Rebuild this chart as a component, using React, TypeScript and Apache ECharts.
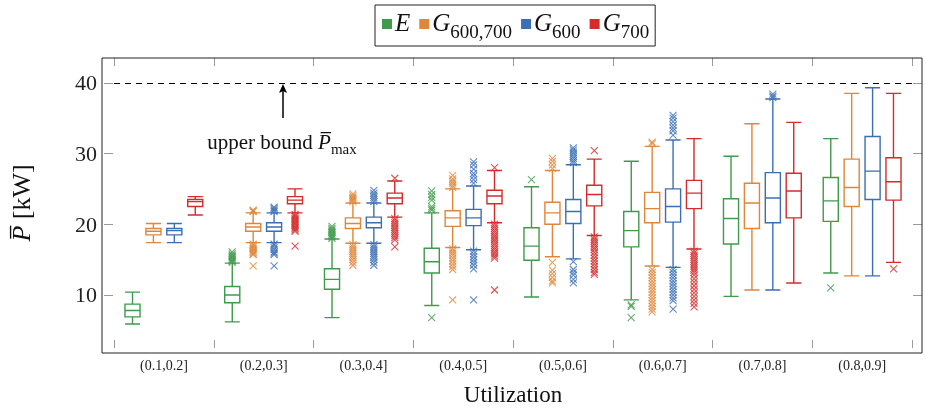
import React, { useEffect, useRef } from 'react';
import * as echarts from 'echarts';

const categories = ['(0.1,0.2]', '(0.2,0.3]', '(0.3,0.4]', '(0.4,0.5]', '(0.5,0.6]', '(0.6,0.7]', '(0.7,0.8]', '(0.8,0.9]'];
const seriesNames = ['E', 'G600,700', 'G600', 'G700'];
const colors = ['#3f9a4b', '#e0863a', '#3b6eb5', '#d42b2b'];
const yTicks = [10, 20, 30, 40];
const upperBound = 40;

// [min, Q1, median, Q3, max]
const eBox = [
  [5.9, 6.9, 7.8, 8.7, 10.4], [6.2, 8.9, 10.0, 11.2, 14.5], [6.8, 10.8, 12.2, 13.7, 17.9], [8.5, 13.1, 14.7, 16.6, 21.6],
  [9.7, 14.9, 16.9, 19.5, 25.3], [9.3, 16.8, 19.1, 21.8, 28.9], [9.8, 17.2, 20.8, 23.6, 29.6], [13.1, 20.4, 23.3, 26.6, 32.1],
];
const g67Box = [
  [17.4, 18.5, 19.0, 19.4, 20.1], [17.4, 19.0, 19.6, 20.1, 21.6], [17.3, 19.4, 20.1, 20.9, 23.0], [16.7, 19.7, 20.9, 21.9, 25.0],
  [15.4, 20.0, 21.6, 23.1, 27.6], [14.1, 20.2, 22.2, 24.5, 31.0], [10.7, 19.4, 23.0, 25.8, 34.2], [12.7, 22.5, 25.2, 29.2, 38.5],
];
const g6Box = [
  [17.4, 18.5, 19.1, 19.4, 20.1], [17.4, 19.0, 19.6, 20.2, 21.6], [17.3, 19.5, 20.2, 21.0, 23.0], [16.4, 19.8, 20.9, 22.1, 25.4],
  [15.1, 20.1, 21.8, 23.5, 28.4], [13.9, 20.3, 22.5, 25.0, 31.9], [10.7, 20.2, 23.7, 27.3, 37.7], [12.7, 23.5, 27.5, 32.4, 39.3],
];
const g7Box = [
  [21.3, 22.5, 23.2, 23.5, 23.9], [21.6, 22.9, 23.4, 23.9, 25.0], [21.0, 22.9, 23.7, 24.4, 26.1], [20.2, 22.9, 24.0, 24.8, 27.6],
  [18.4, 22.6, 24.2, 25.5, 29.2], [16.5, 22.2, 24.4, 26.2, 32.1], [11.7, 20.9, 24.7, 27.2, 34.4], [14.6, 23.4, 26.0, 29.4, 38.5],
];

// outliers per category index
const eOut = [
  [],
  [14.6, 14.8, 15.0, 15.2, 15.4, 15.6, 15.8, 16.1],
  [18.0, 18.2, 18.4, 18.6, 18.8, 19.0, 19.2, 19.4, 19.7],
  [22.0, 22.2, 22.5, 23.4, 23.8, 24.2, 24.7, 6.8],
  [26.3],
  [8.6, 8.4, 6.8],
  [],
  [11.0],
];
const g67Out = [
  [],
  [21.8, 21.9, 22.0, 17.2, 17.0, 16.8, 16.6, 16.4, 16.2, 16.0, 15.8, 15.7, 14.1],
  [23.2, 23.4, 23.6, 23.8, 24.0, 24.3, 17.1, 16.8, 16.5, 16.2, 15.9, 15.6, 15.3, 15.0, 14.6, 14.2],
  [25.2, 25.5, 25.8, 26.1, 26.4, 26.9, 16.5, 16.2, 15.9, 15.6, 15.2, 14.8, 14.4, 14.0, 13.6, 9.3],
  [27.9, 28.4, 28.9, 29.3, 14.6, 13.5, 13.0, 12.5, 12.0, 11.7],
  [31.4, 31.6, 13.6, 13.2, 12.8, 12.4, 12.0, 11.6, 11.2, 10.8, 10.4, 10.0, 9.6, 9.2, 8.8, 8.4, 8.0, 7.6],
  [],
  [],
];
const g6Out = [
  [],
  [21.8, 22.0, 22.2, 22.4, 17.2, 17.0, 16.7, 16.4, 16.1, 15.9, 15.7, 14.1],
  [23.2, 23.5, 23.8, 24.1, 24.4, 24.8, 17.1, 16.8, 16.5, 16.2, 15.9, 15.6, 15.3, 15.0, 14.6, 14.2],
  [25.8, 26.3, 26.8, 27.2, 27.8, 28.4, 28.8, 16.2, 15.8, 15.4, 15.0, 14.6, 14.2, 13.7, 9.3],
  [28.7, 29.0, 29.3, 29.6, 29.9, 30.2, 30.5, 30.8, 14.7, 13.6, 13.2, 12.8, 12.2, 11.7],
  [32.6, 33.2, 33.6, 34.0, 34.5, 35.0, 35.4, 13.6, 13.2, 12.8, 12.4, 12.0, 11.6, 11.2, 10.8, 10.4, 10.0, 9.6, 9.2, 8.0],
  [37.9, 38.1, 38.4],
  [],
];
const g7Out = [
  [],
  [21.4, 21.2, 21.0, 20.8, 20.6, 20.4, 20.2, 20.0, 19.8, 19.6, 19.4, 19.2, 19.0, 16.9],
  [26.5, 20.8, 20.5, 20.2, 19.9, 19.6, 19.3, 19.0, 18.7, 18.4, 18.1, 17.8, 16.8],
  [28.0, 20.0, 19.7, 19.4, 19.1, 18.8, 18.5, 18.2, 17.9, 17.6, 17.3, 17.0, 16.7, 16.4, 16.1, 15.8, 15.5, 15.2, 10.7],
  [30.4, 18.2, 17.9, 17.6, 17.3, 17.0, 16.7, 16.4, 16.0, 15.6, 15.2, 14.8, 14.4, 14.0, 13.6, 13.2, 12.9],
  [16.2, 15.9, 15.6, 15.3, 15.0, 14.7, 14.4, 14.1, 13.8, 13.5, 13.2, 12.8, 12.3, 11.8, 11.3, 10.8, 10.3, 9.8, 9.3, 8.8, 8.3],
  [],
  [13.7],
];

const boxes = [eBox, g67Box, g6Box, g7Box];
const outliers = [eOut, g67Out, g6Out, g7Out];

const SERIF = '"Liberation Serif", "DejaVu Serif", serif';
const W = 926;
const H = 411;
const GRID = { left: 112, right: 14, top: 58, bottom: 58 };

export default function App() {
  const ref = useRef<HTMLDivElement>(null);
  useEffect(() => {
    const chart = echarts.init(ref.current!, null, { renderer: 'svg' });

    // replicate ECharts boxplot layout offsets for symbol offsets of outliers
    const bandWidth = (W - GRID.left - GRID.right) / categories.length;
    const n = seriesNames.length;
    const avail = bandWidth * 0.8 - 2;
    const gap = (avail / n) * 0.3;
    const bw = (avail - gap * (n - 1)) / n;
    const offsets: number[] = [];
    let base = bw / 2 - avail / 2;
    for (let i = 0; i < n; i++) {
      offsets.push(base);
      base += gap + bw;
    }

    const series: any[] = [];
    seriesNames.forEach((name, i) => {
      series.push({
        name,
        type: 'boxplot',
        data: boxes[i],
        itemStyle: { color: '#fff', borderColor: colors[i], borderWidth: 1.4 },
        emphasis: { disabled: true },
        z: 2,
        ...(i === 0
          ? {
              markLine: {
                silent: true,
                symbol: ['none', 'none'],
                label: { show: false },
                lineStyle: { color: '#000', type: [6, 5], width: 1 },
                data: [{ yAxis: upperBound }],
              },
            }
          : {}),
      });
    });
    seriesNames.forEach((name, i) => {
      const pts: number[][] = [];
      outliers[i].forEach((vals, ci) => vals.forEach((v) => pts.push([ci, v])));
      series.push({
        name,
        type: 'scatter',
        data: pts,
        symbol: 'path://M0,0L10,10M0,10L10,0',
        symbolSize: 7,
        symbolOffset: [offsets[i], 0],
        itemStyle: { color: 'none', borderColor: colors[i], borderWidth: 1.1 },
        emphasis: { disabled: true },
        z: 3,
      });
    });

    const legendFmt: Record<string, string> = {
      E: '{i|E}',
      'G600,700': '{i|G}{s|600,700}',
      G600: '{i|G}{s|600}',
      G700: '{i|G}{s|700}',
    };

    const tickStyle = { color: '#9a9a9a', width: 1 };
    const lineStyle = { color: 'rgba(0,0,0,0)', width: 1 };

    chart.setOption({
      animation: false,
      grid: GRID,
      legend: {
        left: 375,
        top: 5,
        padding: [5, 6, 5, 7],
        borderColor: '#222',
        borderWidth: 1,
        itemGap: 9,
        itemWidth: 10,
        itemHeight: 10,
        icon: 'rect',
        data: seriesNames.map((nm, i) => ({ name: nm, itemStyle: { color: colors[i], borderWidth: 0 } })),
        formatter: (nm: string) => legendFmt[nm],
        textStyle: {
          padding: [0, 0, 0, -2],
          rich: {
            i: { fontFamily: SERIF, fontStyle: 'italic', fontSize: 25, color: '#111', lineHeight: 28, verticalAlign: 'top' },
            s: { fontFamily: SERIF, fontSize: 19, color: '#111', lineHeight: 19, padding: [12, 0, 0, 0], verticalAlign: 'top' },
          },
        },
      },
      xAxis: [
        {
          type: 'category',
          data: categories,
          boundaryGap: true,
          axisLine: { show: true, lineStyle },
          axisTick: { show: true, inside: true, length: 8, lineStyle: tickStyle },
          axisLabel: { fontFamily: SERIF, fontSize: 14, color: '#222', margin: 10 },
          splitLine: { show: false },
          name: 'Utilization',
          nameLocation: 'middle',
          nameGap: 35,
          nameTextStyle: { fontFamily: SERIF, fontSize: 23, color: '#111' },
        },
        {
          type: 'category',
          position: 'top',
          data: categories,
          boundaryGap: true,
          axisLine: { show: true, lineStyle },
          axisTick: { show: true, inside: true, length: 8, lineStyle: tickStyle },
          axisLabel: { show: false },
          splitLine: { show: false },
        },
      ],
      yAxis: [
        {
          type: 'value',
          min: 2.5,
          max: 43.5,
          offset: 10,
          axisLine: { show: true, lineStyle },
          axisTick: { show: true, inside: true, length: 9, lineStyle: tickStyle, customValues: yTicks },
          axisLabel: { fontFamily: SERIF, fontSize: 22, color: '#222', margin: 7, customValues: yTicks },
          splitLine: { show: false },
          name: '{p|P\u0305} [kW]',
          nameLocation: 'middle',
          nameGap: 70,
          nameRotate: 90,
          nameTextStyle: {
            fontFamily: SERIF,
            fontSize: 26,
            color: '#111',
            rich: { p: { fontFamily: SERIF, fontStyle: 'italic', fontSize: 26, color: '#111' } },
          },
        },
        {
          type: 'value',
          position: 'right',
          min: 2.5,
          max: 43.5,
          offset: 10,
          axisLine: { show: true, lineStyle },
          axisTick: { show: true, inside: true, length: 9, lineStyle: tickStyle, customValues: yTicks },
          axisLabel: { show: false, customValues: yTicks },
          splitLine: { show: false },
        },
      ],
      graphic: [
        {
          type: 'rect',
          shape: { x: 102, y: 58, width: 820, height: 295 },
          style: { fill: 'none', stroke: '#222', lineWidth: 1 },
          silent: true,
          z: 10,
        },
        {
          type: 'line',
          shape: { x1: 283, y1: 118, x2: 283, y2: 88 },
          style: { stroke: '#000', lineWidth: 1.5 },
          silent: true,
        },
        {
          type: 'polygon',
          shape: { points: [[283, 84], [279, 93], [283, 91], [287, 93]] },
          style: { fill: '#000' },
          silent: true,
        },
        {
          type: 'text',
          x: 282,
          y: 142,
          style: {
            text: '{t|upper bound }{p|P\u0305}{s|max}',
            align: 'center',
            verticalAlign: 'middle',
            rich: {
              t: { fontFamily: SERIF, fontSize: 21, fill: '#111', lineHeight: 22, verticalAlign: 'top' },
              p: { fontFamily: SERIF, fontStyle: 'italic', fontSize: 21, fill: '#111', lineHeight: 22, verticalAlign: 'top' },
              s: { fontFamily: SERIF, fontSize: 15, fill: '#111', lineHeight: 15, padding: [10, 0, 0, 0], verticalAlign: 'top' },
            },
          },
          silent: true,
        },
      ],
      series,
    });
    return () => chart.dispose();
  }, []);
  return <div ref={ref} style={{ position: 'fixed', left: 0, top: 0, width: W, height: H }} />;
}
